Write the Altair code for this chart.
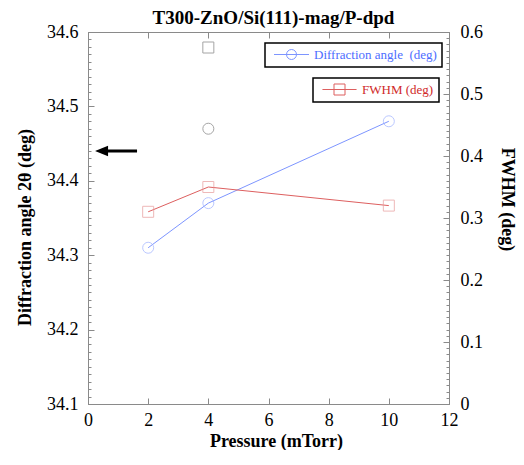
import altair as alt
import pandas as pd

# ---- data ----
pressure = [2, 4, 10]
angle = [34.31, 34.37, 34.48]
fwhm = [0.31, 0.35, 0.32]
outlier_pressure = [4]
outlier_angle = [34.47]
outlier_fwhm = [0.575]
arrow_head_x = [0.45]
arrow_tail_x = [1.63]
arrow_y = [34.44]

x_ticks = [0, 2, 4, 6, 8, 10, 12]
angle_ticks = [round(34.1 + i * 0.01, 2) for i in range(51)]
fwhm_ticks = [round(i * 0.01, 2) for i in range(61)]

angle_label = "Diffraction angle\u00a0 (deg)"
fwhm_label = "FWHM (deg)"
title_text = "T300-ZnO/Si(111)-mag/P-dpd"

FONT = "Liberation Serif"
AX = "#8a8a8a"
BLUE_LINE = "#7d95ff"
BLUE_MARK = "#9fb2ff"
BLUE_TEXT = "#4d6dff"
RED_LINE = "#dd5f5f"
RED_MARK = "#e89c9c"
RED_TEXT = "#d02a2a"
GRAY = "#7f7f7f"
MAJ = "abs(datum.value*10 - round(datum.value*10)) < 0.001"

df_angle = pd.DataFrame({"pressure": pressure, "angle": angle,
                         "series": angle_label, "shadow": "a"})
df_fwhm = pd.DataFrame({"pressure": pressure, "fwhm": fwhm,
                        "series": fwhm_label, "shadow": "f"})
df_out_a = pd.DataFrame({"pressure": outlier_pressure, "angle": outlier_angle})
df_out_f = pd.DataFrame({"pressure": outlier_pressure, "fwhm": outlier_fwhm})
df_arrow = pd.DataFrame({"head": arrow_head_x, "tail": arrow_tail_x, "y": arrow_y})

W, H = 361, 372
x_scale = alt.Scale(domain=[0, 12], nice=False, zero=False)
ya_scale = alt.Scale(domain=[34.1, 34.6], nice=False, zero=False)
yf_scale = alt.Scale(domain=[0, 0.6], nice=False, zero=False)

common = dict(grid=False, ticks=True, zindex=1, minExtent=0,
              domainColor=AX, tickColor=AX, domainWidth=1, tickWidth=1,
              labelFont=FONT, labelFontSize=18, labelColor="black",
              labelFlush=False, labelOverlap=False, titleFont=FONT,
              titleFontSize=18, titleFontWeight="bold", titleColor="black")
# inward ticks (negative sizes), long for major and short for minor
tick_major = {"expr": "-6"}
tick_minor = {"condition": {"test": MAJ, "value": -6}, "value": -3}

x_axis_bottom = alt.Axis(orient="bottom", values=x_ticks, format="d",
                         tickSize=tick_major, labelPadding=13,
                         title="Pressure (mTorr)", titleX=188, titleY=42,
                         titleAlign="center", titleBaseline="alphabetic",
                         **common)
# the chart title is carried by the label-less top axis
x_axis_top = alt.Axis(orient="top", values=x_ticks, labels=False,
                      tickSize=tick_major, title=title_text,
                      titleX=185, titleY=-9, titleAlign="center",
                      titleBaseline="alphabetic", **{**common, "titleFontSize": 19})
ya_axis = alt.Axis(orient="left", values=angle_ticks,
                   labelExpr=f"{MAJ} ? format(datum.value, '.1f') : ''",
                   tickSize=tick_minor, labelPadding=16,
                   title="Diffraction angle 2\u03b8 (deg)", titleAngle=270,
                   titleX=-63, titleY=195, titleAlign="center",
                   titleBaseline="middle", **common)
yf_axis = alt.Axis(orient="right", values=fwhm_ticks,
                   labelExpr=f"{MAJ} ? (datum.value == 0 ? '0' : format(datum.value, '.1f')) : ''",
                   tickSize=tick_minor, labelPadding=17,
                   title="FWHM (deg)", titleAngle=90,
                   titleX=57, titleY=167, titleAlign="center",
                   titleBaseline="middle", **common)


def legend(x, y, fill, label_color, sym_path, sym_size, z, label_expr=None):
    kw = dict(orient="none", legendX=x, legendY=y, title=None,
              fillColor=fill, strokeColor="black",
              padding=5, labelFont=FONT, labelFontSize=13,
              labelColor=label_color, symbolType=sym_path,
              symbolSize=sym_size, symbolFillColor="transparent",
              symbolStrokeWidth=1, symbolOffset=15, labelOffset=16,
              zindex=z)
    if label_expr is not None:
        kw["labelExpr"] = label_expr
    return alt.Legend(**kw)


CIRC_PATH = "M-3.5,0L3.5,0M1,0A1,1 0 1,1 -1,0A1,1 0 1,1 1,0"
SQ_PATH = "M-3.1,0L3.1,0M-1,-1L1,-1L1,1L-1,1Z"

X = lambda f: alt.X(f"{f}:Q", scale=x_scale, axis=x_axis_bottom)
XT = lambda f: alt.X(f"{f}:Q", scale=x_scale, axis=x_axis_top)
YA = lambda f: alt.Y(f"{f}:Q", scale=ya_scale, axis=ya_axis)
YF = lambda f: alt.Y(f"{f}:Q", scale=yf_scale, axis=yf_axis)

# ---- diffraction-angle layer (left axis, bottom axis) ----
blue_line = alt.Chart(df_angle).mark_line(strokeWidth=1).encode(
    x=X("pressure"), y=YA("angle"),
    color=alt.Color("shadow:N", scale=alt.Scale(domain=["a"], range=["black"]),
                    legend=legend(180, 14, "black", "black", CIRC_PATH, 100, 2,
                                  label_expr=f"'{angle_label}'")),
    stroke=alt.Stroke("series:N", scale=alt.Scale(domain=[angle_label], range=[BLUE_LINE]),
                      legend=legend(177, 11, "white", BLUE_TEXT, CIRC_PATH, 100, 3)),
)
blue_pts = alt.Chart(df_angle).mark_point(shape="circle", filled=False, size=121,
                                          color=BLUE_MARK, strokeWidth=1).encode(
    x=X("pressure"), y=YA("angle"))
out_circle = alt.Chart(df_out_a).mark_point(shape="circle", filled=False, size=121,
                                            color=GRAY, strokeWidth=1).encode(
    x=X("pressure"), y=YA("angle"))
arrow_shaft = alt.Chart(df_arrow).mark_rule(color="black", strokeWidth=3).encode(
    x=X("head"), x2="tail", y=YA("y"))
arrow_tip = alt.Chart(df_arrow).mark_point(shape="M-1,0L1,-0.8L1,0.8Z", filled=True,
                                           size=169, color="black", opacity=1).encode(
    x=X("head"), y=YA("y"))
angle_layer = alt.layer(blue_line, blue_pts, out_circle, arrow_shaft, arrow_tip)

# ---- FWHM layer (right axis, top axis) ----
red_line = alt.Chart(df_fwhm).mark_line(strokeWidth=1).encode(
    x=XT("pressure"), y=YF("fwhm"),
    color=alt.Color("shadow:N", scale=alt.Scale(domain=["f"], range=["black"]),
                    legend=legend(228, 49, "black", "black", SQ_PATH, 121, 2,
                                  label_expr=f"'{fwhm_label}'")),
    stroke=alt.Stroke("series:N", scale=alt.Scale(domain=[fwhm_label], range=[RED_LINE]),
                      legend=legend(225, 46, "white", RED_TEXT, SQ_PATH, 121, 3)),
)
red_pts = alt.Chart(df_fwhm).mark_point(shape="square", filled=False, size=121,
                                        color=RED_MARK, strokeWidth=1).encode(
    x=XT("pressure"), y=YF("fwhm"))
out_square = alt.Chart(df_out_f).mark_point(shape="square", filled=False, size=121,
                                            color=GRAY, strokeWidth=1).encode(
    x=XT("pressure"), y=YF("fwhm"))
fwhm_layer = alt.layer(red_line, red_pts, out_square)

chart = alt.layer(angle_layer, fwhm_layer).resolve_scale(
    y="independent", color="independent", stroke="independent"
).resolve_axis(x="independent", y="independent").properties(
    width=W, height=H,
    padding={"left": 80, "top": 24, "right": 67, "bottom": 46},
    autosize=alt.AutoSizeParams(type="none"),
).configure_view(stroke=AX).configure_legend(strokeWidth=1.5)

chart.save("out.html", embed_options={"renderer": "svg", "actions": False})
